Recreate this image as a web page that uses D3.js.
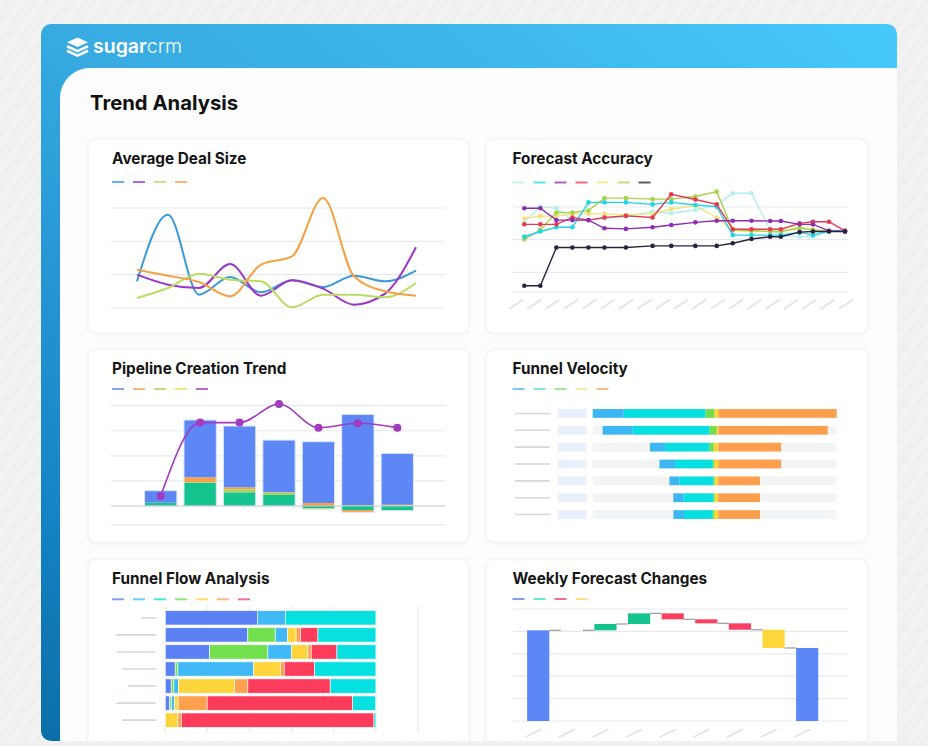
<!DOCTYPE html>
<html><head><meta charset="utf-8">
<script src="https://cdn.jsdelivr.net/npm/d3@7"></script>
<style>
html,body{margin:0;padding:0;background:#efefef;overflow:hidden}
svg{display:block}
text{font-family:Inter,"Noto Sans",sans-serif}
</style></head>
<body>
<svg id="c" width="928" height="746"></svg>
<script>
// ---------- DATA ----------
// Average Deal Size (thousands)
const dealMonths = ["Jan","Feb","Mar","Apr","May","Jun","Jul","Aug","Sep","Oct"];
const dealTicks = [0, 10, 20, 30];
const dealBlue   = [8, 28, 4, 9.3, 4.7, 8.3, 6.3, 9.7, 8, 11.2];
const dealPurple = [10, 7, 6, 13.2, 3.7, 8.3, 5.8, 1, 4.3, 18.2];
const dealGreen  = [3, 6, 10.3, 8.5, 8, 0.2, 4, 4, 3.2, 7.5];
const dealOrange = [11.5, 9.7, 7.8, 3.5, 13, 15.5, 33, 9.5, 5, 3.7];

// Forecast Accuracy (%)
const accDates = ["2024-01-01","2024-01-07","2024-01-13","2024-01-19","2024-01-25","2024-01-31","2024-02-08","2024-02-18","2024-02-25","2024-03-05","2024-03-13","2024-03-19","2024-03-26","2024-04-02","2024-04-06","2024-04-13","2024-04-18","2024-04-24","2024-04-30"];
const accTicks = [80, 90, 100];
const accLightCyan = [95.5,100.1,99.6,96.0,96.0,96.5,97.0,98.6,98.1,99.1,100.6,104.2,104.2,93.0,91.4,90.9,90.9,92.5,92.7];
const accCyan      = [90.9,92.5,93.8,93.8,101.4,101.4,101.4,100.8,101.4,100.6,100.1,91.4,91.4,91.4,91.4,92.3,91.4,92.7,92.7];
const accPurple    = [99.6,99.6,96.0,96.0,96.0,93.5,93.3,93.8,94.5,95.3,95.8,95.8,95.8,95.7,95.7,94.7,94.7,92.7,92.5];
const accRed       = [94.7,94.7,94.7,96.8,96.0,96.8,97.3,96.8,103.9,102.3,100.8,93.2,93.2,93.2,93.2,95.0,95.5,95.5,92.7];
const accYellow    = [96.5,97.2,97.2,97.9,97.9,97.9,97.6,97.9,99.4,100.4,96.8,92.8,92.5,92.5,92.5,94.0,93.0,92.5,92.7];
const accGreen     = [90.1,93.0,98.3,98.3,98.9,102.7,102.7,102.4,102.4,103.2,104.7,93.0,92.8,92.5,92.5,93.5,93.0,92.5,92.7];
const accNavy      = [75.9,75.9,87.6,87.6,87.6,87.6,87.6,88.1,88.1,88.1,88.1,88.9,90.2,90.9,90.9,92.3,92.5,92.5,92.5];

// Pipeline Creation Trend
const pipeCats = ["P1","P2","P3","P4","P5","P6","P7"];
const pipeTicks = [0, 20, 40, 60, 80];
const pipeTeal   = [2.7, 18.5, 10.9, 8.8, -1.8, -3.2, -3.7];
const pipeLime   = [0, 0.5, 2.4, 1.9, -0.8, 0.8, 0];
const pipeOrange = [0, 3.9, 1.6, 0.3, 2.4, -1.8, 0];
const pipeYellow = [0, 0, 0, 0, 0, 0, 1.0];
const pipeBlue   = [9.5, 45.7, 48.9, 41.6, 48.9, 72.3, 41.0];
const pipeLine   = [8.0, 66.5, 66.5, 81.4, 62.5, 66.0, 62.5];

// Funnel Velocity (left stages diverge left, orange right)
const velRows   = ["V1","V2","V3","V4","V5","V6","V7"];
const velBlue   = [26.2, 25.4, 12.7, 13.2, 8.5, 8.5, 9.0];
const velCyan   = [69.0, 64.8, 37.5, 31.8, 28.7, 25.4, 24.2];
const velGreen  = [7.6, 6.2, 3.7, 1.1, 1.1, 1.1, 1.1];
const velYellow = [3.4, 1.4, 3.9, 3.7, 3.1, 3.1, 3.7];
const velOrange = [100, 92.4, 53, 53, 35.2, 35.2, 35.2];

// Funnel Flow Analysis (% of row)
const flowRows   = ["F1","F2","F3","F4","F5","F6","F7"];
const flowTicks  = [0, 20, 40, 60, 80, 100, 120];
const flowIndigo = [43.7, 39.2, 21.0, 4.7, 2.8, 2.1, 0];
const flowGreen  = [0, 13.0, 27.7, 1.3, 1.3, 0.9, 0];
const flowBlue   = [13.4, 5.9, 11.2, 35.9, 2.1, 1.4, 0];
const flowYellow = [0, 4.0, 7.8, 12.7, 26.7, 1.7, 6.0];
const flowOrange = [0, 2.2, 1.6, 1.9, 6.3, 13.8, 1.6];
const flowRed    = [0, 8.2, 12.2, 14.4, 39.1, 69.1, 91.5];
const flowCyan   = [42.9, 27.5, 18.5, 29.1, 21.7, 10.9, 0.9];
const flowLabelLen = [14.4, 39.4, 39.4, 33.4, 27.7, 39.4, 33.4];

// Weekly Forecast Changes (waterfall)
const wfCats    = ["Start","W1","W2","W3","W4","W5","W6","W7","End"];
const wfChanges = [81, 0, 5.6, 9.5, -5.3, -3.6, -5.7, -16.3, 0];
const wfTypes   = ["total","increase","increase","increase","decrease","decrease","decrease","other","total"];
const wfTicks   = [0, 20, 40, 60, 80, 100];

// ---------- DRAW ----------
const svg = d3.select("#c");
const defs = svg.append("defs");

// background
svg.append("rect").attr("width",928).attr("height",746).attr("fill","#f0f0f0");
const pat = defs.append("pattern").attr("id","stripes").attr("width",16).attr("height",16)
  .attr("patternUnits","userSpaceOnUse").attr("patternTransform","rotate(35)");
pat.append("rect").attr("width",5).attr("height",16).attr("fill","#f5f5f5");
svg.append("rect").attr("width",928).attr("height",746).attr("fill","url(#stripes)").attr("opacity",0.5);

// frame gradient
const fg = defs.append("linearGradient").attr("id","fg").attr("x1",0).attr("y1",1).attr("x2",1).attr("y2",0);
[[0,"#0a6ea8"],[0.17,"#1584c4"],[0.5,"#37aae2"],[0.75,"#3db8ec"],[1,"#47c9fd"]].forEach(s=>
  fg.append("stop").attr("offset",s[0]).attr("stop-color",s[1]));
svg.append("rect").attr("x",41).attr("y",24).attr("width",856).attr("height",717).attr("rx",10).attr("fill","url(#fg)");

// logo
const logo = svg.append("g").attr("fill","#fff");
logo.append("path").attr("d","M77.5,37.5 L88,42.3 L77.5,47.1 L67,42.3 Z");
logo.append("path").attr("d","M67,46.3 L77.5,51.1 L88,46.3").attr("fill","none").attr("stroke","#fff").attr("stroke-width",2.6).attr("stroke-linejoin","round");
logo.append("path").attr("d","M67,50.8 L77.5,55.6 L88,50.8").attr("fill","none").attr("stroke","#fff").attr("stroke-width",2.6).attr("stroke-linejoin","round");
const lt = svg.append("text").attr("x",93).attr("y",52.5).attr("fill","#fff").attr("font-size",19.5);
lt.append("tspan").attr("font-weight",600).text("sugar");
lt.append("tspan").attr("font-weight",300).text("crm");

// white panel
svg.append("path").attr("d","M60,741 L60,98 A30,30 0 0 1 90,68 L897,68 L897,741 Z").attr("fill","#fdfdfd");
defs.append("clipPath").attr("id","pc").append("path").attr("d","M60,741 L60,98 A30,30 0 0 1 90,68 L897,68 L897,741 Z");
const panel = svg.append("g").attr("clip-path","url(#pc)");

panel.append("text").attr("x",90).attr("y",109.5).attr("font-size",20.3).attr("font-weight",700).attr("fill","#111").text("Trend Analysis");

const sh = defs.append("filter").attr("id","sh").attr("x","-5%").attr("y","-5%").attr("width","110%").attr("height","115%");
sh.append("feDropShadow").attr("dx",0).attr("dy",1).attr("stdDeviation",2).attr("flood-color","#000").attr("flood-opacity",0.05);

function card(x,y,w,h,t,tx){
  panel.append("rect").attr("x",x).attr("y",y).attr("width",w).attr("height",h).attr("rx",8)
    .attr("fill","#fff").attr("stroke","#eef0f3").attr("filter","url(#sh)");
  panel.append("text").attr("x",tx).attr("y",y+25).attr("font-size",15.3).attr("font-weight",700).attr("fill","#161616").text(t);
}
function legend(x,y,colors){
  colors.forEach((c,i)=>panel.append("line").attr("x1",x+i*21).attr("x2",x+i*21+12).attr("y1",y).attr("y2",y)
    .attr("stroke",c).attr("stroke-width",2).attr("opacity",0.75));
}
function hgrid(ys,x1,x2,color){
  ys.forEach(y=>panel.append("line").attr("x1",x1).attr("x2",x2).attr("y1",y).attr("y2",y).attr("stroke",color||"#e7e9ee").attr("stroke-width",1.2));
}

card(88,139,381,194,"Average Deal Size",112);
card(486,139,382,194,"Forecast Accuracy",512.5);
card(88,349,381,193,"Pipeline Creation Trend",112);
card(486,349,382,193,"Funnel Velocity",512.5);
card(88,559,381,200,"Funnel Flow Analysis",112);
card(486,559,382,200,"Weekly Forecast Changes",512.5);

// ---- Average Deal Size ----
{
  const colors = ["#3b9ad8","#9d36c6","#b9dc63","#f7a043"];
  legend(112,182,colors);
  const x = d3.scalePoint().domain(dealMonths).range([137,416]);
  const y = d3.scaleLinear().domain([0,30]).range([308,208]);
  hgrid(dealTicks.map(y),111,445);
  const line = d3.line().x((d,i)=>x(dealMonths[i])).y(d=>y(d)).curve(d3.curveMonotoneX);
  [dealBlue,dealPurple,dealGreen,dealOrange].forEach((s,k)=>
    panel.append("path").attr("d",line(s)).attr("fill","none").attr("stroke",colors[k]).attr("stroke-width",2));
}

// ---- Forecast Accuracy ----
{
  const colors = ["#b3eff0","#1fd3e8","#8f2db2","#e8394f","#f3e17a","#a7d34c","#2b2140"];
  legend(512.5,182.5,colors);
  const parse = d3.utcParse("%Y-%m-%d");
  const dates = accDates.map(parse);
  const x = d3.scaleUtc().domain(d3.extent(dates)).range([524.3,845]);
  const y = d3.scaleLinear().domain([74,100]).range([292,207]);
  hgrid(accTicks.map(y).concat([y(74)]),512.7,847.7);
  const hx = d3.scalePoint().domain(accDates).range([523,853]);
  accDates.forEach(d=>{const t=hx(d); panel.append("line").attr("x1",t-14).attr("y1",309).attr("x2",t).attr("y2",299.5)
    .attr("stroke","#e3e3e3").attr("stroke-width",1.6);});
  const line = d3.line().x((d,i)=>x(dates[i])).y(d=>y(d));
  [accLightCyan,accYellow,accGreen,accCyan,accRed,accPurple,accNavy].forEach((s,k)=>{
    const c = [colors[0],colors[4],colors[5],colors[1],colors[3],colors[2],colors[6]][k];
    panel.append("path").attr("d",line(s)).attr("fill","none").attr("stroke",c).attr("stroke-width",1.4);
    s.forEach((v,i)=>panel.append("circle").attr("cx",x(dates[i])).attr("cy",y(v)).attr("r",2.3).attr("fill",c));
  });
}

// ---- Pipeline Creation Trend ----
{
  const col = {teal:"#14c38d",lime:"#a3d65c",orange:"#f9a04a",yellow:"#f5dc4a",blue:"#5e87f6"};
  legend(112,389,[col.blue,col.orange,col.lime,col.yellow,"#a23bbf"]);
  const x = d3.scaleBand().domain(pipeCats).range([141,417]).paddingInner(0.18).paddingOuter(0.09);
  const y = d3.scaleLinear().domain([-15,80]).range([524.8,405.7]);
  hgrid(pipeTicks.filter(t=>t!==0).map(y).concat([y(-15)]),111,445);
  const rows = pipeCats.map((c,i)=>({cat:c,teal:pipeTeal[i],lime:pipeLime[i],orange:pipeOrange[i],yellow:pipeYellow[i],blue:pipeBlue[i]}));
  const st = d3.stack().keys(["teal","lime","orange","yellow","blue"]).offset(d3.stackOffsetDiverging)(rows);
  st.forEach(layer=>layer.forEach(d=>{
    const h = Math.abs(y(d[0])-y(d[1])); if(h<0.01) return;
    panel.append("rect").attr("x",x(d.data.cat)).attr("width",x.bandwidth())
      .attr("y",Math.min(y(d[0]),y(d[1]))).attr("height",h).attr("fill",col[layer.key]);
  }));
  pipeCats.forEach((c,i)=>{
    const pos = st.reduce((m,l)=>Math.max(m,l[i][1]),0), neg = st.reduce((m,l)=>Math.min(m,l[i][0]),0);
    panel.append("rect").attr("x",x(c)).attr("width",x.bandwidth()).attr("y",y(pos)).attr("height",y(neg)-y(pos))
      .attr("fill","none").attr("stroke","#dbe7fb").attr("stroke-width",1);
  });
  panel.append("line").attr("x1",111).attr("x2",445).attr("y1",y(0)).attr("y2",y(0)).attr("stroke","#c3c7d0").attr("stroke-width",1.2);
  const cx = c=>x(c)+x.bandwidth()/2;
  const line = d3.line().x((d,i)=>cx(pipeCats[i])).y(d=>y(d)).curve(d3.curveMonotoneX);
  panel.append("path").attr("d",line(pipeLine)).attr("fill","none").attr("stroke","#a23bbf").attr("stroke-width",1.6);
  pipeLine.forEach((v,i)=>panel.append("circle").attr("cx",cx(pipeCats[i])).attr("cy",y(v)).attr("r",4).attr("fill","#a23bbf"));
}

// ---- Funnel Velocity ----
{
  const col = {blue:"#3db6f4",cyan:"#08dfe0",green:"#72dd4c",yellow:"#fdd63a",orange:"#fd9f4c"};
  legend(512.5,389,["#49b9f0","#55e0e6","#7fe07a","#fbe07a","#f9a55a"]);
  const x = d3.scaleLinear().domain([-106.2,100]).range([592.7,836.7]);
  const y = d3.scaleBand().domain(velRows).range([405,523]).paddingInner(0.48).paddingOuter(0.24);
  const bw = y.bandwidth();
  velRows.forEach((r,i)=>{
    const yc = y(r)+bw/2;
    panel.append("line").attr("x1",515).attr("x2",550).attr("y1",yc).attr("y2",yc).attr("stroke","#d4d7d4").attr("stroke-width",1.6);
    panel.append("rect").attr("x",557.7).attr("y",y(r)).attr("width",29).attr("height",bw).attr("fill","#e8f1fb");
    panel.append("rect").attr("x",x.range()[0]).attr("y",y(r)).attr("width",x.range()[1]-x.range()[0]).attr("height",bw).attr("fill","#f3f4f6");
    let acc = 0;
    [["yellow",velYellow[i]],["green",velGreen[i]],["cyan",velCyan[i]],["blue",velBlue[i]]].forEach(([k,v])=>{
      panel.append("rect").attr("x",x(-(acc+v))).attr("y",y(r)).attr("width",x(-acc)-x(-(acc+v))).attr("height",bw).attr("fill",col[k]);
      acc += v;
    });
    panel.append("rect").attr("x",x(0)).attr("y",y(r)).attr("width",x(velOrange[i])-x(0)).attr("height",bw).attr("fill",col.orange);
  });
}

// ---- Funnel Flow Analysis ----
{
  const keys = ["indigo","green","blue","yellow","orange","red","cyan"];
  const col = {indigo:"#5a80f4",green:"#72e04c",blue:"#40b9f6",yellow:"#fed43c",orange:"#fda14e",red:"#fc3c5a",cyan:"#06e0e0"};
  legend(112,599.3,[col.indigo,col.blue,col.cyan,col.green,col.yellow,col.orange,"#e8457e"]);
  const x = d3.scaleLinear().domain([0,120]).range([165.3,418]);
  const y = d3.scaleBand().domain(flowRows).range([610.7,727.3]).paddingInner(0.16);
  flowTicks.forEach(t=>panel.append("line").attr("x1",x(t)).attr("x2",x(t)).attr("y1",606).attr("y2",733).attr("stroke","#e9eaed").attr("stroke-width",1.2));
  const rows = flowRows.map((r,i)=>({row:r,indigo:flowIndigo[i],green:flowGreen[i],blue:flowBlue[i],yellow:flowYellow[i],orange:flowOrange[i],red:flowRed[i],cyan:flowCyan[i]}));
  const st = d3.stack().keys(keys)(rows);
  st.forEach(layer=>layer.forEach(d=>{
    if(d[1]-d[0]<=0) return;
    panel.append("rect").attr("x",x(d[0])).attr("width",x(d[1])-x(d[0])).attr("y",y(d.data.row)).attr("height",y.bandwidth())
      .attr("fill",col[layer.key]).attr("stroke","#fff").attr("stroke-width",0.6);
  }));
  flowRows.forEach((r,i)=>{
    const yc=y(r)+y.bandwidth()/2;
    panel.append("line").attr("x1",155.7-flowLabelLen[i]).attr("x2",155.7).attr("y1",yc).attr("y2",yc).attr("stroke","#cfd7df").attr("stroke-width",1.6);
  });
}

// ---- Weekly Forecast Changes ----
{
  const col = {total:"#5b87f7",increase:"#14c38d",decrease:"#fb4161",other:"#fdd73b"};
  legend(512.5,599,["#5a7de8","#2fe0d2","#f0455e","#fdd85a"]);
  const x = d3.scaleBand().domain(wfCats).range([521.4,824]).paddingInner(0.34).paddingOuter(0.17);
  const y = d3.scaleLinear().domain([0,100]).range([721,609]);
  hgrid(wfTicks.map(y),512.7,847.7);
  let run = 0; const bars = [];
  wfCats.forEach((c,i)=>{
    let y0,y1;
    if(wfTypes[i]==="total"){ if(i===0){ y0=0; y1=wfChanges[i]; } else { y0=0; y1=run; } run=y1; }
    else { y0=run; y1=run+wfChanges[i]; run=y1; }
    bars.push({c,y0,y1,end:run,type:wfTypes[i]});
  });
  bars.forEach((b,i)=>{
    if(i<bars.length-1){
      panel.append("line").attr("x1",x(b.c)+x.bandwidth()).attr("x2",x(bars[i+1].c)).attr("y1",y(b.end)).attr("y2",y(b.end))
        .attr("stroke","#9b9b9b").attr("stroke-width",1.2);
    }
    const h = Math.abs(y(b.y0)-y(b.y1)); if(h<0.01) return;
    panel.append("rect").attr("x",x(b.c)).attr("width",x.bandwidth()).attr("y",Math.min(y(b.y0),y(b.y1))).attr("height",h).attr("fill",col[b.type]);
  });
  wfCats.forEach(c=>{const t=x(c)+x.bandwidth()/2; panel.append("line").attr("x1",t-13).attr("y1",737.3).attr("x2",t+3).attr("y2",729.3)
    .attr("stroke","#e3e3e3").attr("stroke-width",1.6);});
}
</script>
</body></html>
